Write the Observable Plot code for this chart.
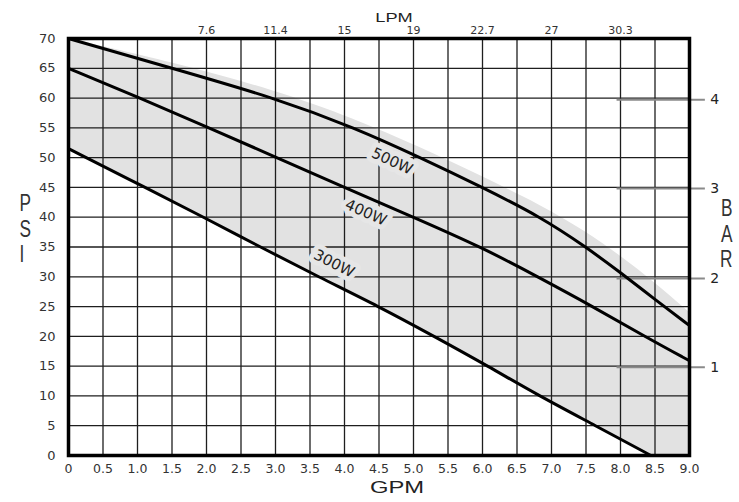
<!DOCTYPE html>
<html>
<head>
<meta charset="utf-8">
<script src="https://cdn.jsdelivr.net/npm/d3@7"></script>
<script src="https://cdn.jsdelivr.net/npm/@observablehq/plot@0.6"></script>
<style>
  html, body { margin: 0; padding: 0; background: #fff; }
  #chart svg { display: block; }
</style>
</head>
<body>
<div id="chart"></div>
<script>
// ---- data ----
const gpm500   = [0, 1.5, 3, 4.15, 5.1, 6.0, 6.85, 7.5, 8.0, 8.5, 9];
const psi500   = [70, 65, 60, 55, 50, 45, 40, 35, 30.7, 26.2, 21.8];
const shadeTop = [70, 66, 61.3, 56.5, 51.7, 46.8, 42, 37.6, 33.5, 29, 24];
const gpm400   = [0, 1, 2, 3, 4, 5, 6, 6.8, 7.6, 8.35, 9];
const psi400   = [65, 60.2, 55.2, 50.1, 45, 40, 34.9, 30, 25, 20, 15.9];
const gpm300   = [0, 1.11, 1.96, 2.78, 3.62, 4.5, 5.3, 6.08, 6.82, 7.64, 8.44];
const psi300   = [51.5, 45, 40, 35, 30, 25, 20, 15, 10, 5, 0];

const curveNames = ["500W", "400W", "300W"];
const labelGpm   = [4.69, 4.31, 3.85];
const labelPsi   = [49.4, 40.8, 32.2];
const labelAngle = [25, 24, 27];

const gpmTicks  = [0, 0.5, 1, 1.5, 2, 2.5, 3, 3.5, 4, 4.5, 5, 5.5, 6, 6.5, 7, 7.5, 8, 8.5, 9];
const gpmLabels = ["0","0.5","1.0","1.5","2.0","2.5","3.0","3.5","4.0","4.5","5.0","5.5","6.0","6.5","7.0","7.5","8.0","8.5","9.0"];
const psiTicks  = [0, 5, 10, 15, 20, 25, 30, 35, 40, 45, 50, 55, 60, 65, 70];
const lpmAt     = [2, 3, 4, 5, 6, 7, 8];
const lpmLabels = ["7.6", "11.4", "15", "19", "22.7", "27", "30.3"];
const barPsi    = [14.8, 29.7, 44.8, 59.7];
const barLabels = ["1", "2", "3", "4"];

const gridX = gpmTicks.filter(d => d > 0 && d < 9);
const gridY = psiTicks.filter(d => d > 0 && d < 70);

const pts = (xs, ys) => xs.map((x, i) => ({x, y: ys[i]}));
const c500 = pts(gpm500, psi500);
const c400 = pts(gpm400, psi400);
const c300 = pts(gpm300, psi300);
const shade = pts(gpm500, shadeTop);
const labels = curveNames.map((name, i) => ({name, x: labelGpm[i], y: labelPsi[i], a: labelAngle[i]}));
const bars = barPsi.map((y, i) => ({y, label: barLabels[i]}));
const crv = "basis";

const chart = Plot.plot({
  width: 739,
  height: 502,
  marginTop: 38,
  marginRight: 50,
  marginBottom: 47,
  marginLeft: 68,
  x: {domain: [0, 9]},
  y: {domain: [0, 70]},
  style: {fontFamily: "'DejaVu Sans', sans-serif", fontSize: "13px", color: "#333", background: "#fff"},
  marks: [
    Plot.areaY(shade, {x: "x", y: "y", fill: "#e2e2e2", curve: crv}),
    Plot.areaY(c300, {x: "x", y: "y", fill: "#fff", curve: crv}),
    Plot.ruleX(gridX, {stroke: "#1e1e1e", strokeWidth: 1.3}),
    Plot.ruleY(gridY, {stroke: "#1e1e1e", strokeWidth: 1.3}),
    Plot.ruleY(bars, {y: "y", x1: 7.95, x2: 9.23, stroke: "#8a8a8a", strokeWidth: 2}),
    Plot.text(bars, {y: "y", x: 9.3, text: "label", textAnchor: "start", fontSize: 14, fill: "#222"}),
    Plot.text(labels, {x: "x", y: "y", text: "name", rotate: "a", fontSize: 15, fill: "#222",
      stroke: "#e6e6e6", strokeWidth: 10, strokeLinejoin: "round"}),
    Plot.line(c500, {x: "x", y: "y", stroke: "#000", strokeWidth: 3, curve: crv}),
    Plot.line(c400, {x: "x", y: "y", stroke: "#000", strokeWidth: 3, curve: crv}),
    Plot.line(c300, {x: "x", y: "y", stroke: "#000", strokeWidth: 3, curve: crv}),
    Plot.frame({stroke: "#000", strokeWidth: 3.5}),
    Plot.axisY(psiTicks, {tickSize: 0, tickPadding: 13, label: null, fontSize: 13,
      tickFormat: d => String(d)}),
    Plot.axisX(gpmTicks, {anchor: "bottom", tickSize: 0, tickPadding: 9, label: null, fontSize: 12.5,
      tickFormat: d => gpmLabels[gpmTicks.indexOf(d)]}),
    Plot.axisX(lpmAt, {anchor: "top", tickSize: 0, tickPadding: 5, label: null, fontSize: 11,
      tickFormat: d => lpmLabels[lpmAt.indexOf(d)]}),
    Plot.text(["LPM"], {frameAnchor: "top", dx: 15, dy: -26, fontSize: 13.5, fill: "#222",
      fontFamily: "'Liberation Sans', Arial, sans-serif"}),
    Plot.text(["GPM"], {frameAnchor: "bottom", dx: 18, dy: 37, fontSize: 17, fill: "#222",
      fontFamily: "'Liberation Sans', Arial, sans-serif"}),
    Plot.text(["P\nS\nI"], {frameAnchor: "left", dx: -49, dy: -18.5, fontSize: 23, lineHeight: 1.1, fill: "#333",
      fontFamily: "'Liberation Sans', Arial, sans-serif"}),
    Plot.text(["B\nA\nR"], {frameAnchor: "right", dx: 43, dy: -13.5, fontSize: 23, lineHeight: 1.1, fill: "#333",
      fontFamily: "'Liberation Sans', Arial, sans-serif"})
  ]
});

document.getElementById("chart").appendChild(chart);

// horizontal stretch/condense of the title glyphs to match the reference lettering
const stretch = {"LPM": 1.35, "GPM": 1.4, "PSI": 0.75, "BAR": 0.75};
d3.select(chart).selectAll("text").each(function() {
  const t = this.textContent;
  if (stretch[t] !== undefined) {
    const tr = this.getAttribute("transform") || "";
    this.setAttribute("transform", tr + ` scale(${stretch[t]},1)`);
  }
});
</script>
</body>
</html>
